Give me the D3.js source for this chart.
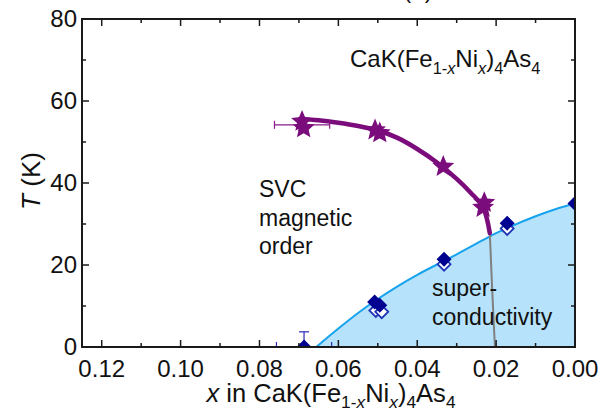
<!DOCTYPE html>
<html>
<head>
<meta charset="utf-8">
<script src="https://cdn.jsdelivr.net/npm/d3@7"></script>
<style>
  body { margin: 0; background: #fff; }
  svg { display: block; font-family: "Liberation Sans", Arial, sans-serif; }
</style>
</head>
<body>
<svg id="chart" width="600" height="412"></svg>
<script>
// Magnetic transition (stars) and superconducting Tc (diamonds) vs Ni content x
const starX = [0.0692, 0.0688, 0.0507, 0.0495, 0.0334, 0.0233, 0.0230];
const starT = [55.0, 53.4, 52.9, 52.2, 44.0, 34.0, 35.2];
const starXErr = [0.0070, 0, 0, 0, 0, 0, 0];

const tcFilledX = [0.0687, 0.0508, 0.0495, 0.0332, 0.0172, 0.0000];
const tcFilledT = [0.0, 11.0, 10.2, 21.4, 30.2, 35.0];
const tcFilledTErr = [3.7, 0, 0, 0, 0, 0];
const tcFilledXErr = [0.0070, 0, 0, 0, 0, 0];

const tcOpenX = [0.0505, 0.0490, 0.0332, 0.0172];
const tcOpenT = [8.9, 8.6, 20.2, 28.9];

// guide curves
const magLineX = [0.0698, 0.065, 0.060, 0.055, 0.050, 0.045, 0.040, 0.035, 0.030, 0.0265, 0.0233, 0.0216];
const magLineT = [55.6, 55.3, 54.7, 53.9, 52.8, 51.0, 48.3, 45.0, 41.0, 37.7, 34.0, 27.8];

const tcLineX = [0.0656, 0.060, 0.055, 0.050, 0.045, 0.040, 0.0334, 0.030, 0.025, 0.0216, 0.0172, 0.010, 0.005, 0.000];
const tcLineT = [0, 4.5, 8.3, 11.7, 14.8, 17.6, 20.9, 22.6, 25.2, 27.0, 29.0, 31.9, 33.6, 35.0];

const boundaryX = [0.0216, 0.0210, 0.0203];
const boundaryT = [27.8, 14.0, 0];

const xTicks = [0.12, 0.10, 0.08, 0.06, 0.04, 0.02, 0.00];
const yTicks = [0, 20, 40, 60, 80];

const svg = d3.select("#chart");
const L = 82, R = 575, T = 19, B = 347;

const x = d3.scaleLinear().domain([0.125, 0.0]).range([L, R]);
const y = d3.scaleLinear().domain([0, 80]).range([B, T]);

svg.append("defs").append("clipPath").attr("id", "plotclip")
  .append("rect").attr("x", L).attr("y", T).attr("width", R - L).attr("height", B - T);

const plot = svg.append("g").attr("clip-path", "url(#plotclip)");

// superconducting dome
const tcPts = tcLineX.map((d, i) => [d, tcLineT[i]]);
plot.append("path")
  .datum(tcPts)
  .attr("fill", "#b6e3fb")
  .attr("d", d3.area().x(d => x(d[0])).y0(y(0)).y1(d => y(d[1])).curve(d3.curveMonotoneX));
plot.append("path")
  .datum(tcPts)
  .attr("fill", "none").attr("stroke", "#17a2ee").attr("stroke-width", 2)
  .attr("d", d3.line().x(d => x(d[0])).y(d => y(d[1])).curve(d3.curveMonotoneX));

// phase boundary between SVC order and superconductivity
plot.append("path")
  .datum(boundaryX.map((d, i) => [d, boundaryT[i]]))
  .attr("fill", "none").attr("stroke", "#808080").attr("stroke-width", 2)
  .attr("d", d3.line().x(d => x(d[0])).y(d => y(d[1])).curve(d3.curveMonotoneY));

// magnetic transition line
plot.append("path")
  .datum(magLineX.map((d, i) => [d, magLineT[i]]))
  .attr("fill", "none").attr("stroke", "#7b0c7b").attr("stroke-width", 4.5)
  .attr("stroke-linecap", "round")
  .attr("d", d3.line().x(d => x(d[0])).y(d => y(d[1])).curve(d3.curveCatmullRom));

// error bars
const ebBlue = "#2a2ab8", ebPurple = "#8a1a8a";
tcFilledX.forEach((d, i) => {
  if (tcFilledXErr[i] > 0) {
    const g = plot.append("g").attr("stroke", ebBlue).attr("stroke-width", 1.2);
    g.append("line").attr("x1", x(d - tcFilledXErr[i])).attr("x2", x(d + tcFilledXErr[i]))
      .attr("y1", y(tcFilledT[i])).attr("y2", y(tcFilledT[i]));
    [d - tcFilledXErr[i], d + tcFilledXErr[i]].forEach(e =>
      g.append("line").attr("x1", x(e)).attr("x2", x(e)).attr("y1", y(tcFilledT[i]) - 5).attr("y2", y(tcFilledT[i]) + 5));
  }
  if (tcFilledTErr[i] > 0) {
    const g = plot.append("g").attr("stroke", ebBlue).attr("stroke-width", 1.2);
    g.append("line").attr("x1", x(d)).attr("x2", x(d)).attr("y1", y(tcFilledT[i])).attr("y2", y(tcFilledT[i] + tcFilledTErr[i]));
    g.append("line").attr("x1", x(d) - 5).attr("x2", x(d) + 5)
      .attr("y1", y(tcFilledT[i] + tcFilledTErr[i])).attr("y2", y(tcFilledT[i] + tcFilledTErr[i]));
  }
});
starX.forEach((d, i) => {
  if (starXErr[i] > 0) {
    const g = plot.append("g").attr("stroke", ebPurple).attr("stroke-width", 1.2);
    g.append("line").attr("x1", x(d - starXErr[i])).attr("x2", x(d + starXErr[i]))
      .attr("y1", y(starT[i] - 0.8)).attr("y2", y(starT[i] - 0.8));
    [d - starXErr[i], d + starXErr[i]].forEach(e =>
      g.append("line").attr("x1", x(e)).attr("x2", x(e)).attr("y1", y(starT[i] - 0.8) - 4).attr("y2", y(starT[i] - 0.8) + 4));
    g.append("line").attr("x1", x(d) - 4).attr("x2", x(d) + 4).attr("y1", y(starT[i] - 2.2)).attr("y2", y(starT[i] - 2.2));
  }
});

// diamonds
const diamond = r => `M0,${-r}L${r},0L0,${r}L${-r},0Z`;
plot.selectAll("path.open").data(tcOpenX).join("path")
  .attr("class", "open")
  .attr("transform", (d, i) => `translate(${x(d)},${y(tcOpenT[i])})`)
  .attr("d", diamond(6.5))
  .attr("fill", "#fff").attr("stroke", "#1f35b5").attr("stroke-width", 1.8);
plot.selectAll("path.filled").data(tcFilledX).join("path")
  .attr("class", "filled")
  .attr("transform", (d, i) => `translate(${x(d)},${y(tcFilledT[i])})`)
  .attr("d", diamond(7.5))
  .attr("fill", "#000091");

// five-pointed stars
function starPath(ro, ri) {
  const pts = d3.range(10).map(k => {
    const a = -Math.PI / 2 + k * Math.PI / 5, r = k % 2 ? ri : ro;
    return [r * Math.cos(a), r * Math.sin(a)];
  });
  return "M" + pts.map(p => p[0].toFixed(2) + "," + p[1].toFixed(2)).join("L") + "Z";
}
plot.selectAll("path.star").data(starX).join("path")
  .attr("class", "star")
  .attr("transform", (d, i) => `translate(${x(d)},${y(starT[i])})`)
  .attr("d", starPath(11.5, 5.2))
  .attr("fill", "#7b0c7b");

// frame and ticks
const frame = svg.append("g").attr("stroke", "#1a1a1a").attr("fill", "none");
frame.append("rect").attr("x", L).attr("y", T).attr("width", R - L).attr("height", B - T).attr("stroke-width", 2);

d3.range(0, 13).map(i => i * 0.01).forEach(v => {
  const major = Math.round(v * 100) % 2 === 0;
  const len = major ? 7 : 4;
  frame.append("line").attr("x1", x(v)).attr("x2", x(v)).attr("y1", B).attr("y2", B - len).attr("stroke-width", 1.5);
  frame.append("line").attr("x1", x(v)).attr("x2", x(v)).attr("y1", T).attr("y2", T + len).attr("stroke-width", 1.5);
});
d3.range(0, 81, 10).forEach(v => {
  const len = v % 20 === 0 ? 7 : 4;
  frame.append("line").attr("x1", L).attr("x2", L + len).attr("y1", y(v)).attr("y2", y(v)).attr("stroke-width", 1.5);
  frame.append("line").attr("x1", R).attr("x2", R - len).attr("y1", y(v)).attr("y2", y(v)).attr("stroke-width", 1.5);
});

// tick labels
svg.append("g").selectAll("text").data(xTicks).join("text")
  .attr("x", d => x(d)).attr("y", B + 30)
  .attr("text-anchor", "middle").attr("font-size", 24).attr("fill", "#111")
  .text(d => d.toFixed(2));
svg.append("g").selectAll("text").data(yTicks).join("text")
  .attr("x", L - 5).attr("y", d => y(d) + 7.5)
  .attr("text-anchor", "end").attr("font-size", 24).attr("fill", "#111")
  .text(d => d);

// axis titles
const yl = svg.append("text")
  .attr("transform", `translate(40,181) rotate(-90)`)
  .attr("text-anchor", "middle").attr("font-size", 26).attr("fill", "#111");
yl.append("tspan").attr("font-style", "italic").text("T");
yl.append("tspan").text(" (K)");

function formula(sel, size, shiftFrac) {
  const sub = size * 0.68, shift = size * shiftFrac;
  sel.append("tspan").text("CaK(Fe");
  sel.append("tspan").attr("font-size", sub).attr("dy", shift).text("1-");
  sel.append("tspan").attr("font-size", sub).attr("font-style", "italic").text("x");
  sel.append("tspan").attr("dy", -shift).text("Ni");
  sel.append("tspan").attr("font-size", sub).attr("font-style", "italic").attr("dy", shift).text("x");
  sel.append("tspan").attr("dy", -shift).text(")");
  sel.append("tspan").attr("font-size", sub).attr("dy", shift).text("4");
  sel.append("tspan").attr("dy", -shift).text("As");
  sel.append("tspan").attr("font-size", sub).attr("dy", shift).text("4");
}

const xl = svg.append("text")
  .attr("x", 331).attr("y", 402)
  .attr("text-anchor", "middle").attr("font-size", 25.5).attr("fill", "#111");
xl.append("tspan").attr("font-style", "italic").text("x");
xl.append("tspan").text(" in ");
formula(xl, 25.5, 0.24);

// annotations
const f = svg.append("text").attr("x", 350).attr("y", 67).attr("font-size", 24).attr("fill", "#111");
formula(f, 24, 0.3);

const svc = svg.append("text").attr("font-size", 23).attr("fill", "#111");
["SVC", "magnetic", "order"].forEach((t, i) =>
  svc.append("tspan").attr("x", 259).attr("y", 197 + i * 28.5).text(t));
const sc = svg.append("text").attr("font-size", 23).attr("fill", "#111");
["super-", "conductivity"].forEach((t, i) =>
  sc.append("tspan").attr("x", 432).attr("y", 296 + i * 28.5).text(t));

// panel label, partly outside the top edge
svg.append("text").attr("x", 418).attr("y", -2).attr("text-anchor", "middle")
  .attr("font-size", 24).attr("fill", "#111").text("(a)");
</script>
</body>
</html>
